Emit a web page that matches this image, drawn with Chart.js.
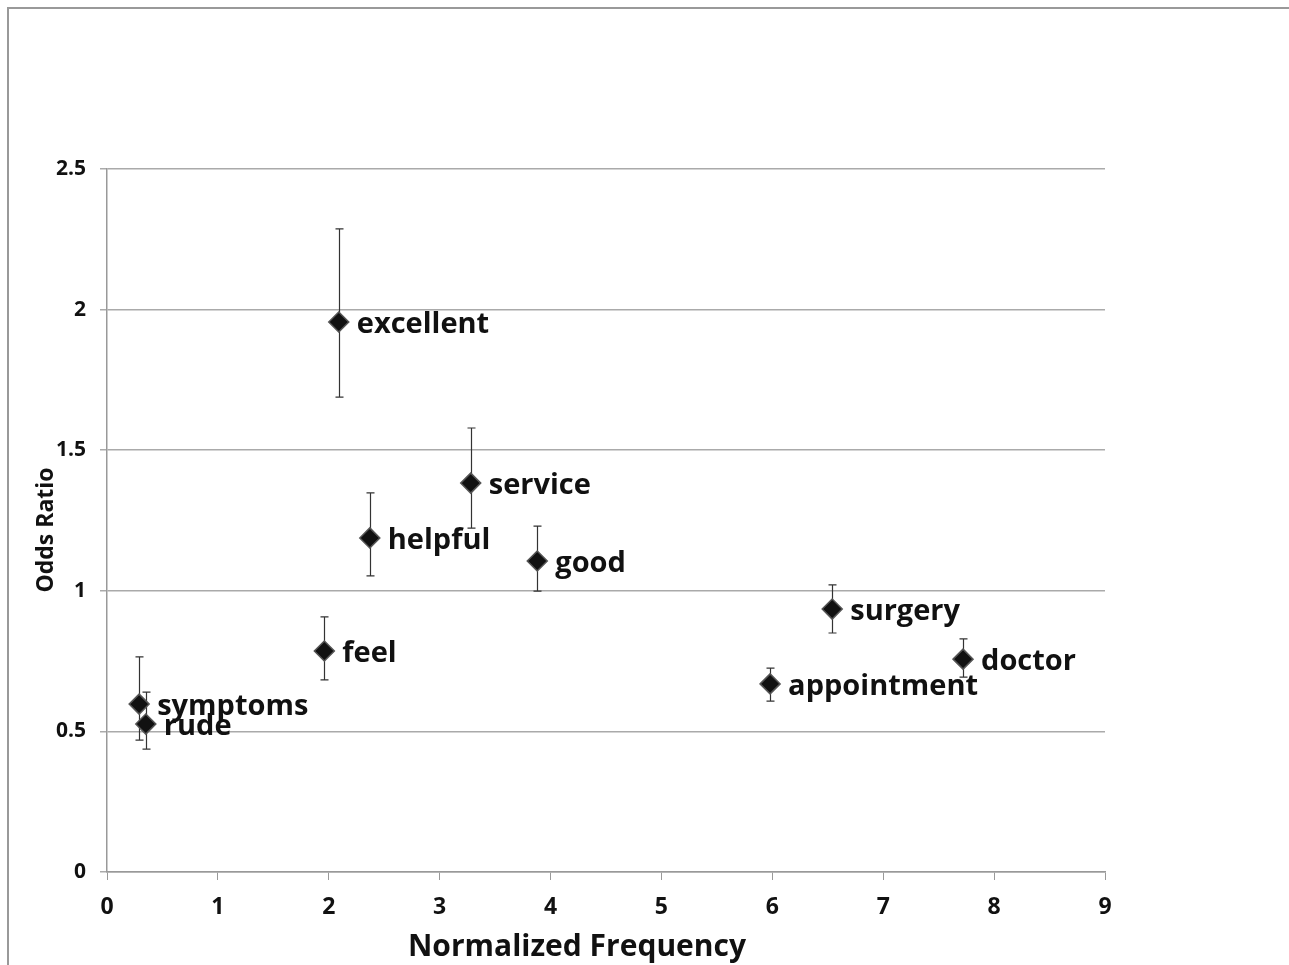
<!DOCTYPE html>
<html>
<head>
<meta charset="utf-8">
<script src="https://cdn.jsdelivr.net/npm/chart.js@4"></script>
<style>
  html, body { margin: 0; padding: 0; background: #fff; }
  #wrap { position: relative; width: 1289px; height: 965px; overflow: hidden; }
  #frame { position: absolute; left: 7px; top: 7px; width: 1300px; height: 1000px;
           border-top: 2px solid #999; border-left: 2px solid #999; }
  canvas { position: absolute; left: 0; top: 0; }
</style>
</head>
<body>
<div id="wrap">
  <div id="frame"></div>
  <canvas id="chart" width="1289" height="965"></canvas>
</div>
<script>
const words = ["excellent", "service", "helpful", "good", "feel", "surgery", "doctor", "appointment", "symptoms", "rude"];
const freq = [2.09, 3.28, 2.37, 3.88, 1.96, 6.54, 7.72, 5.98, 0.29, 0.35];
const oddsRatio = [1.956, 1.383, 1.188, 1.106, 0.786, 0.935, 0.757, 0.669, 0.597, 0.526];
const upper = [2.287, 1.579, 1.348, 1.230, 0.907, 1.021, 0.829, 0.725, 0.765, 0.640];
const lower = [1.689, 1.223, 1.053, 0.999, 0.683, 0.850, 0.693, 0.608, 0.469, 0.437];
const xTicks = [0, 1, 2, 3, 4, 5, 6, 7, 8, 9];
const yTicks = [0, 0.5, 1, 1.5, 2, 2.5];
const xTitle = "Normalized Frequency";
const yTitle = "Odds Ratio";

const fontFamily = "'Open Sans', sans-serif";

// error bars under the markers
const errorBars = {
  id: "errorBars",
  beforeDatasetsDraw(chart) {
    const ctx = chart.ctx;
    const xs = chart.scales.x, ys = chart.scales.y;
    ctx.save();
    ctx.strokeStyle = "#333";
    ctx.lineWidth = 1.2;
    freq.forEach((f, i) => {
      const px = Math.round(xs.getPixelForValue(f)) + 0.5;
      const top = ys.getPixelForValue(upper[i]);
      const bot = ys.getPixelForValue(lower[i]);
      ctx.beginPath();
      ctx.moveTo(px, top); ctx.lineTo(px, bot);
      ctx.moveTo(px - 4, top); ctx.lineTo(px + 4, top);
      ctx.moveTo(px - 4, bot); ctx.lineTo(px + 4, bot);
      ctx.stroke();
    });
    ctx.restore();
  }
};

// word labels next to each point, plus the axis titles
const wordLabels = {
  id: "wordLabels",
  afterDatasetsDraw(chart) {
    const ctx = chart.ctx;
    const xs = chart.scales.x, ys = chart.scales.y;
    ctx.save();
    ctx.fillStyle = "#111";
    ctx.font = "bold 29px " + fontFamily;
    ctx.textBaseline = "middle";
    ctx.textAlign = "left";
    words.forEach((w, i) => {
      ctx.fillText(w, xs.getPixelForValue(freq[i]) + 18, ys.getPixelForValue(oddsRatio[i]) + 3);
    });

    ctx.textAlign = "center";
    ctx.font = "bold 30px " + fontFamily;
    ctx.fillText(xTitle, 577, 947);

    ctx.translate(46, 530);
    ctx.rotate(-Math.PI / 2);
    ctx.font = "bold 23px " + fontFamily;
    ctx.fillText(yTitle, 0, 0);
    ctx.restore();
  }
};

new Chart(document.getElementById("chart"), {
  type: "scatter",
  data: {
    datasets: [{
      data: freq.map((f, i) => ({ x: f, y: oddsRatio[i] })),
      pointStyle: "rectRot",
      pointRadius: 10,
      pointHoverRadius: 10,
      backgroundColor: "#111",
      borderColor: "#555",
      borderWidth: 1.5
    }]
  },
  options: {
    responsive: false,
    animation: false,
    events: [],
    layout: { padding: { top: 169, right: 184, left: 0, bottom: 0 } },
    plugins: { legend: { display: false }, tooltip: { enabled: false } },
    scales: {
      x: {
        type: "linear",
        min: 0, max: 9,
        afterFit: (s) => { s.height = 93; },
        afterBuildTicks: (s) => { s.ticks = xTicks.map(v => ({ value: v })); },
        grid: { drawOnChartArea: false, color: "#999", tickLength: 8 },
        border: { color: "#999", width: 1.5 },
        ticks: { color: "#111", font: { family: fontFamily, size: 23, weight: "bold" }, padding: 14, maxRotation: 0,
                 callback: (v) => String(v) }
      },
      y: {
        type: "linear",
        min: 0, max: 2.5,
        afterFit: (s) => { s.width = 107; },
        afterBuildTicks: (s) => { s.ticks = yTicks.map(v => ({ value: v })); },
        grid: { color: "#aaa", lineWidth: 1.5, tickLength: 7 },
        border: { color: "#999", width: 1.5 },
        ticks: { color: "#111", font: { family: fontFamily, size: 21, weight: "bold" }, padding: 14,
                 callback: (v) => String(v) }
      }
    }
  },
  plugins: [errorBars, wordLabels]
});
</script>
</body>
</html>
